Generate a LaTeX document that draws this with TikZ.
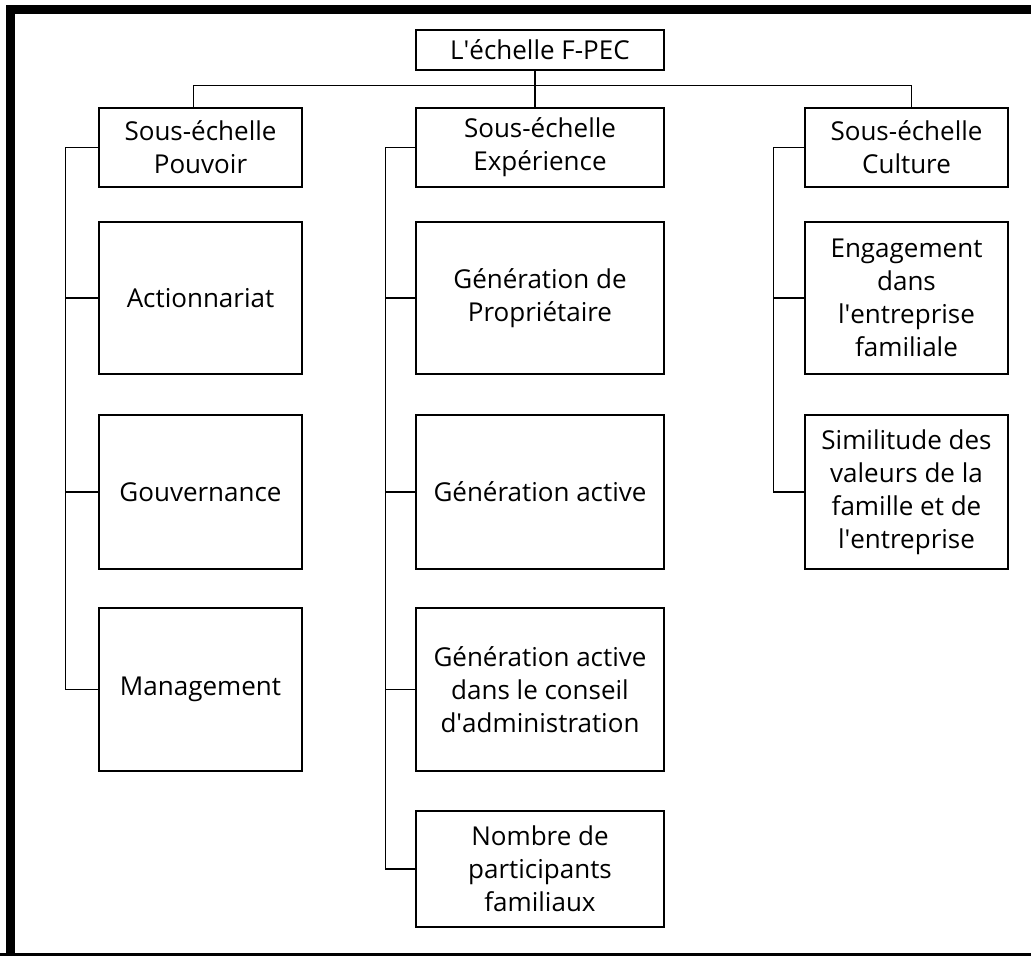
\documentclass[tikz,border=0pt]{standalone}
\usepackage{fontspec}
\setmainfont{Open Sans}
\usepackage{tikz}
\usetikzlibrary{positioning}
\tikzset{boite/.style={draw, line width=1.4pt, align=center, inner sep=0pt, font=\fontsize{26}{33}\selectfont},
	lien/.style={line width=1.4pt}}

\begin{document}
\begin{tikzpicture}[x=1pt,y=-1pt]
		\useasboundingbox (0,0) rectangle (1031,956);
		\draw[line width=9pt] (10,1100) -- (10,9.5) -- (1100,9.5);
		\draw[line width=6pt] (0,956) -- (1031,956);
		\node[boite, minimum width=248, minimum height=40] (titre) at (540,50) {L\textquotesingle échelle F-PEC};
		\node[boite, minimum width=203, minimum height=79] (pouv) at (200.5,147.5) {Sous-échelle\\Pouvoir};
		\node[boite, minimum width=248, minimum height=79] (exp) at (540,147.5) {Sous-échelle\\Expérience};
		\node[boite, minimum width=203, minimum height=79] (cult) at (906.5,147.5) {Sous-échelle\\Culture};
		\node[boite, minimum width=203, minimum height=152] (act) at (200.5,298) {Actionnariat};
		\node[boite, minimum width=203, minimum height=154] (gouv) at (200.5,492) {Gouvernance};
		\node[boite, minimum width=203, minimum height=163] (mgmt) at (200.5,689.5) {Management};
		\node[boite, minimum width=248, minimum height=152] (genprop) at (540,298) {Génération de\\Propriétaire};
		\node[boite, minimum width=248, minimum height=154] (genact) at (540,492) {Génération active};
		\node[boite, minimum width=248, minimum height=163] (gencons) at (540,689.5) {Génération active\\dans le conseil\\d\textquotesingle administration};
		\node[boite, minimum width=248, minimum height=116] (nombre) at (540,869) {Nombre de\\participants\\familiaux};
		\node[boite, minimum width=203, minimum height=152] (engag) at (906.5,298) {Engagement\\dans\\l\textquotesingle entreprise\\familiale};
		\node[boite, minimum width=203, minimum height=154] (simil) at (906.5,492) {Similitude des\\valeurs de la\\famille et de\\l\textquotesingle entreprise};
		\draw[lien] ([xshift=-5]titre.south) -- ([xshift=-5]exp.north);
		\draw[lien] ([xshift=-7]pouv.north) -- ++(0,-22) -| ([xshift=5]cult.north);
		\draw[lien] (pouv.west) -- ++(-33,0) |- (mgmt.west);
		\foreach \n in {act, gouv}
			\draw[lien] (\n.west) -- ++(-33,0);
		\draw[lien] (exp.west) -- ++(-30,0) |- (nombre.west);
		\foreach \n in {genprop, genact, gencons}
			\draw[lien] (\n.west) -- ++(-30,0);
		\draw[lien] (cult.west) -- ++(-31,0) |- (simil.west);
		\draw[lien] (engag.west) -- ++(-31,0);
	\end{tikzpicture}
\end{document}
